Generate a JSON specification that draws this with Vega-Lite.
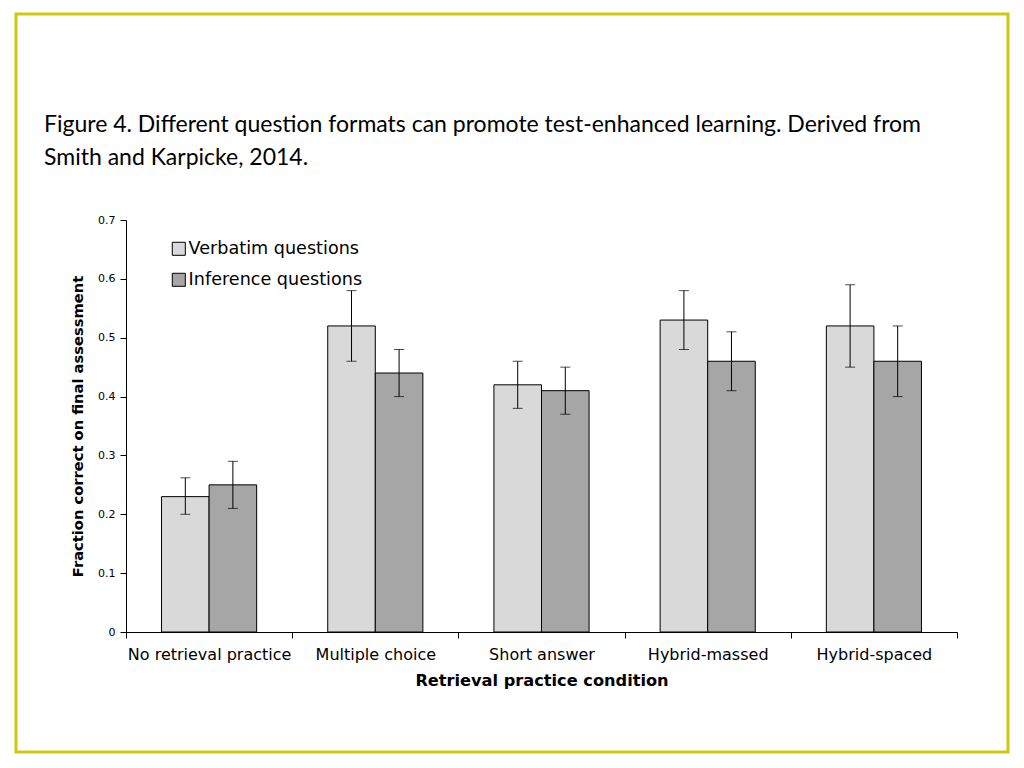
{
  "$schema": "https://vega.github.io/schema/vega-lite/v6.json",
  "width": 992,
  "height": 738,
  "autosize": {"type": "none"},
  "padding": {"left": 16, "top": 14, "right": 16, "bottom": 16},
  "background": "white",
  "config": {
    "view": {"stroke": "#D0C810", "strokeWidth": 3},
    "font": "DejaVu Sans"
  },
  "title": {
    "text": ["Figure 4. Different question formats can promote test-enhanced learning. Derived from", "Smith and Karpicke, 2014."],
    "anchor": "start",
    "frame": "group",
    "orient": "top",
    "offset": 0,
    "baseline": "top",
    "dx": 28,
    "dy": 156,
    "font": "Lato",
    "fontSize": 23,
    "fontWeight": "normal",
    "lineHeight": 33,
    "color": "black"
  },
  "data": {
    "values": [
      {"cond": "No retrieval practice", "type": "Verbatim questions", "value": 0.23, "lo": 0.20, "hi": 0.262},
      {"cond": "No retrieval practice", "type": "Inference questions", "value": 0.25, "lo": 0.21, "hi": 0.29},
      {"cond": "Multiple choice", "type": "Verbatim questions", "value": 0.52, "lo": 0.46, "hi": 0.58},
      {"cond": "Multiple choice", "type": "Inference questions", "value": 0.44, "lo": 0.40, "hi": 0.48},
      {"cond": "Short answer", "type": "Verbatim questions", "value": 0.42, "lo": 0.38, "hi": 0.46},
      {"cond": "Short answer", "type": "Inference questions", "value": 0.41, "lo": 0.37, "hi": 0.45},
      {"cond": "Hybrid-massed", "type": "Verbatim questions", "value": 0.53, "lo": 0.48, "hi": 0.58},
      {"cond": "Hybrid-massed", "type": "Inference questions", "value": 0.46, "lo": 0.41, "hi": 0.51},
      {"cond": "Hybrid-spaced", "type": "Verbatim questions", "value": 0.52, "lo": 0.45, "hi": 0.59},
      {"cond": "Hybrid-spaced", "type": "Inference questions", "value": 0.46, "lo": 0.40, "hi": 0.52}
    ]
  },
  "encoding": {
    "x": {
      "field": "cond",
      "type": "nominal",
      "sort": ["No retrieval practice", "Multiple choice", "Short answer", "Hybrid-massed", "Hybrid-spaced"],
      "scale": {"range": [110, 941], "paddingInner": 0, "paddingOuter": 0},
      "axis": {
        "title": "Retrieval practice condition",
        "titleFontSize": 16.2,
        "titleFontWeight": "bold",
        "titleColor": "black",
        "titlePadding": 10,
        "labelAngle": 0,
        "labelFontSize": 16,
        "labelColor": "black",
        "labelPadding": 8,
        "tickBand": "extent",
        "tickSize": 6,
        "tickColor": "black",
        "domainColor": "black",
        "offset": -120,
        "grid": false
      }
    },
    "xOffset": {
      "field": "type",
      "type": "nominal",
      "sort": ["Verbatim questions", "Inference questions"],
      "scale": {"paddingInner": 0, "paddingOuter": 0.747}
    }
  },
  "layer": [
    {
      "mark": {"type": "bar", "stroke": "black", "strokeWidth": 1},
      "encoding": {
        "y": {
          "field": "value",
          "type": "quantitative",
          "scale": {"domain": [0, 0.7], "range": [618, 206], "nice": false, "zero": true},
          "axis": {
            "title": "Fraction correct on final assessment",
            "titleFontSize": 14.7,
            "titleFontWeight": "bold",
            "titleColor": "black",
            "titlePadding": 12,
            "values": [0, 0.1, 0.2, 0.3, 0.4, 0.5, 0.6, 0.7],
            "format": ".1~f",
            "labelFontSize": 11,
            "labelColor": "black",
            "labelPadding": 5,
            "tickSize": 6,
            "tickColor": "black",
            "domainColor": "black",
            "offset": -110,
            "grid": false
          }
        },
        "color": {
          "field": "type",
          "type": "nominal",
          "sort": ["Verbatim questions", "Inference questions"],
          "scale": {"domain": ["Verbatim questions", "Inference questions"], "range": ["#D9D9D9", "#A6A6A6"]},
          "legend": {
            "title": null,
            "orient": "none",
            "legendX": 154,
            "legendY": 226,
            "symbolType": "square",
            "symbolSize": 170,
            "symbolStrokeColor": "black",
            "symbolStrokeWidth": 1,
            "labelFontSize": 17.6,
            "labelColor": "black",
            "labelOffset": 1,
            "labelLimit": 400,
            "rowPadding": 12
          }
        }
      }
    },
    {
      "mark": {"type": "rule", "color": "black", "strokeWidth": 1},
      "encoding": {
        "y": {"field": "lo", "type": "quantitative"},
        "y2": {"field": "hi"}
      }
    },
    {
      "mark": {"type": "tick", "color": "black", "thickness": 1, "size": 10},
      "encoding": {"y": {"field": "lo", "type": "quantitative"}}
    },
    {
      "mark": {"type": "tick", "color": "black", "thickness": 1, "size": 10},
      "encoding": {"y": {"field": "hi", "type": "quantitative"}}
    }
  ]
}
